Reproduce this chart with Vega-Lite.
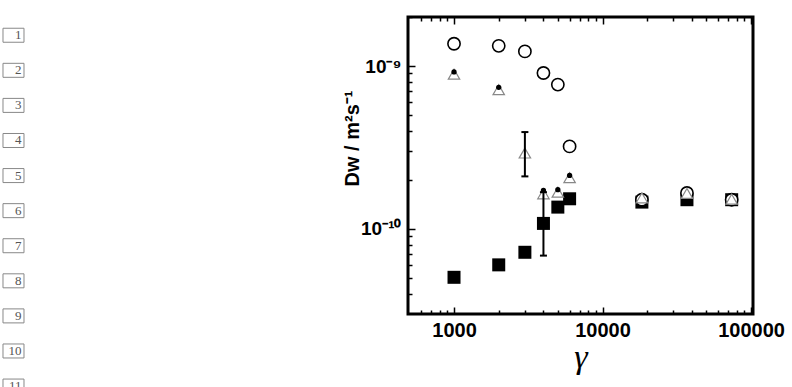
{
  "$schema": "https://vega.github.io/schema/vega-lite/v6.json",
  "padding": {"left": 0, "top": 16, "right": 0, "bottom": 0},
  "background": "white",
  "config": {"view": {"stroke": "black", "strokeWidth": 3}},
  "datasets": {
    "nums": [{"n": 1}, {"n": 2}, {"n": 3}, {"n": 4}, {"n": 5}, {"n": 6}, {"n": 7}, {"n": 8}, {"n": 9}, {"n": 10}, {"n": 11}],
    "pts": [
      {"g": 1000, "D": 1.37e-9, "s": "circle"},
      {"g": 2000, "D": 1.33e-9, "s": "circle"},
      {"g": 3000, "D": 1.23e-9, "s": "circle"},
      {"g": 4000, "D": 0.906e-9, "s": "circle"},
      {"g": 5000, "D": 0.769e-9, "s": "circle"},
      {"g": 6000, "D": 3.21e-10, "s": "circle"},
      {"g": 18400, "D": 1.51e-10, "s": "circle"},
      {"g": 37000, "D": 1.66e-10, "s": "circle"},
      {"g": 74000, "D": 1.51e-10, "s": "circle"},
      {"g": 1000, "D": 0.89e-9, "s": "triangle"},
      {"g": 2000, "D": 0.716e-9, "s": "triangle"},
      {"g": 3000, "D": 2.92e-10, "s": "triangle"},
      {"g": 4000, "D": 1.64e-10, "s": "triangle"},
      {"g": 5000, "D": 1.68e-10, "s": "triangle"},
      {"g": 6000, "D": 2.06e-10, "s": "triangle"},
      {"g": 18400, "D": 1.55e-10, "s": "triangle"},
      {"g": 37000, "D": 1.65e-10, "s": "triangle"},
      {"g": 74000, "D": 1.52e-10, "s": "triangle"},
      {"g": 1000, "D": 0.92e-9, "s": "dot"},
      {"g": 2000, "D": 0.74e-9, "s": "dot"},
      {"g": 4000, "D": 1.72e-10, "s": "dot"},
      {"g": 5000, "D": 1.74e-10, "s": "dot"},
      {"g": 6000, "D": 2.13e-10, "s": "dot"},
      {"g": 1000, "D": 5.04e-11, "s": "square"},
      {"g": 2000, "D": 6.01e-11, "s": "square"},
      {"g": 3000, "D": 7.18e-11, "s": "square"},
      {"g": 4000, "D": 1.08e-10, "s": "square"},
      {"g": 5000, "D": 1.36e-10, "s": "square"},
      {"g": 6000, "D": 1.53e-10, "s": "square"},
      {"g": 18400, "D": 1.46e-10, "s": "square"},
      {"g": 37000, "D": 1.51e-10, "s": "square"},
      {"g": 74000, "D": 1.51e-10, "s": "square"}
    ],
    "err": [
      {"g": 3000, "lo": 2.10e-10, "hi": 3.93e-10},
      {"g": 4000, "lo": 6.85e-11, "hi": 1.68e-10}
    ]
  },
  "width": 345,
  "height": 297,
  "data": {"name": "pts"},
  "resolve": {"scale": {"x": "independent", "y": "independent"}, "axis": {"x": "independent", "y": "independent"}},
  "layer": [
    {
      "transform": [{"filter": "datum.s == 'square'"}],
      "mark": {"type": "point", "shape": "square", "filled": true, "color": "black", "size": 169, "opacity": 1},
      "encoding": {
        "x": {"field": "g", "type": "quantitative",
          "scale": {"type": "log", "domain": [490, 103000], "nice": false},
          "axis": {"orient": "bottom", "values": [1000, 10000, 100000], "format": "d", "ticks": false, "domain": false, "grid": false,
            "labelFont": "Liberation Sans", "labelFontWeight": "bold", "labelFontSize": 20, "labelColor": "black", "labelPadding": 6, "labelFlush": false, "labelOverlap": false,
            "title": "γ", "titleFont": "Liberation Serif", "titleFontStyle": "italic", "titleFontWeight": "normal", "titleFontSize": 34, "titleColor": "black", "titlePadding": 0}},
        "y": {"field": "D", "type": "quantitative",
          "scale": {"type": "log", "domain": [3e-11, 2e-9], "nice": false},
          "axis": {"orient": "left", "values": [1e-10, 1e-9], "labelExpr": "datum.value > 5e-10 ? '10⁻⁹' : '10⁻¹⁰'", "ticks": false, "domain": false, "grid": false,
            "labelFont": "Liberation Sans", "labelFontWeight": "bold", "labelFontSize": 19, "labelColor": "black", "labelPadding": 7, "labelFlush": false, "labelOverlap": false,
            "title": "Dw / m²s⁻¹", "titleFont": "Liberation Sans", "titleFontWeight": "bold", "titleFontSize": 20, "titleColor": "black", "titleX": -46, "titleY": 121, "titleAlign": "center"}}
      }
    },
    {
      "transform": [{"filter": "datum.s == 'circle'"}],
      "mark": {"type": "point", "shape": "circle", "filled": true, "fill": "white", "stroke": "black", "strokeWidth": 1.6, "size": 150, "opacity": 1},
      "encoding": {
        "x": {"field": "g", "type": "quantitative",
          "scale": {"type": "log", "domain": [490, 103000], "nice": false},
          "axis": {"orient": "bottom", "offset": -7, "values": [1000, 10000, 100000], "labels": false, "tickSize": 7, "tickWidth": 1.5, "tickColor": "black", "domain": false, "grid": false, "title": null, "zindex": 1}},
        "y": {"field": "D", "type": "quantitative",
          "scale": {"type": "log", "domain": [3e-11, 2e-9], "nice": false},
          "axis": {"orient": "left", "offset": -7, "values": [1e-10, 1e-9], "labels": false, "tickSize": 7, "tickWidth": 1.5, "tickColor": "black", "domain": false, "grid": false, "title": null, "zindex": 1}}
      }
    },
    {
      "transform": [{"filter": "datum.s == 'triangle'"}],
      "mark": {"type": "point", "shape": "triangle-up", "filled": true, "fill": "white", "stroke": "#888", "strokeWidth": 1.2, "size": 130, "opacity": 1},
      "encoding": {
        "x": {"field": "g", "type": "quantitative",
          "scale": {"type": "log", "domain": [490, 103000], "nice": false},
          "axis": {"orient": "top", "offset": -7, "values": [1000, 10000, 100000], "labels": false, "tickSize": 7, "tickWidth": 1.5, "tickColor": "black", "domain": false, "grid": false, "title": null, "zindex": 1}},
        "y": {"field": "D", "type": "quantitative",
          "scale": {"type": "log", "domain": [3e-11, 2e-9], "nice": false},
          "axis": {"orient": "left", "offset": -4, "values": [4e-11, 5e-11, 6e-11, 7e-11, 8e-11, 9e-11, 2e-10, 3e-10, 4e-10, 5e-10, 6e-10, 7e-10, 8e-10, 9e-10, 2e-9], "labels": false, "tickSize": 4, "tickWidth": 1.5, "tickColor": "black", "domain": false, "grid": false, "title": null, "zindex": 1}}
      }
    },
    {
      "transform": [{"filter": "datum.s == 'dot'"}],
      "mark": {"type": "point", "shape": "circle", "filled": true, "color": "black", "size": 28, "opacity": 1},
      "encoding": {
        "x": {"field": "g", "type": "quantitative",
          "scale": {"type": "log", "domain": [490, 103000], "nice": false},
          "axis": {"orient": "top", "offset": -4, "values": [600, 700, 800, 900, 2000, 3000, 4000, 5000, 6000, 7000, 8000, 9000, 20000, 30000, 40000, 50000, 60000, 70000, 80000, 90000], "labels": false, "tickSize": 4, "tickWidth": 1.5, "tickColor": "black", "domain": false, "grid": false, "title": null, "zindex": 1}},
        "y": {"field": "D", "type": "quantitative",
          "scale": {"type": "log", "domain": [3e-11, 2e-9], "nice": false}, "axis": null}
      }
    },
    {
      "data": {"name": "err"},
      "mark": {"type": "rule", "color": "black", "strokeWidth": 2},
      "encoding": {
        "x": {"field": "g", "type": "quantitative",
          "scale": {"type": "log", "domain": [490, 103000], "nice": false},
          "axis": {"orient": "bottom", "offset": -4, "values": [600, 700, 800, 900, 2000, 3000, 4000, 5000, 6000, 7000, 8000, 9000, 20000, 30000, 40000, 50000, 60000, 70000, 80000, 90000], "labels": false, "tickSize": 4, "tickWidth": 1.5, "tickColor": "black", "domain": false, "grid": false, "title": null, "zindex": 1}},
        "y": {"field": "lo", "type": "quantitative",
          "scale": {"type": "log", "domain": [3e-11, 2e-9], "nice": false}, "axis": null},
        "y2": {"field": "hi"}
      }
    },
    {
      "data": {"name": "err"},
      "transform": [{"fold": ["lo", "hi"], "as": ["k", "v"]}],
      "mark": {"type": "tick", "orient": "horizontal", "color": "black", "thickness": 2, "size": 7, "opacity": 1},
      "encoding": {
        "x": {"field": "g", "type": "quantitative",
          "scale": {"type": "log", "domain": [490, 103000], "nice": false}, "axis": null},
        "y": {"field": "v", "type": "quantitative",
          "scale": {"type": "log", "domain": [3e-11, 2e-9], "nice": false}, "axis": null}
      }
    },
    {
      "data": {"name": "nums"},
      "mark": {"type": "point", "shape": "M-1.5,-1H1.5V1H-1.5Z", "size": 196, "stroke": "#888", "strokeWidth": 1, "filled": false, "opacity": 1, "clip": false},
      "encoding": {
        "x": {"datum": 0, "type": "quantitative", "scale": {"domain": [1.1435, 2.1435], "nice": false, "zero": false}, "axis": null},
        "y": {"field": "n", "type": "quantitative", "scale": {"domain": [0.48, 8.946], "reverse": true, "nice": false, "zero": false}, "axis": null}
      }
    },
    {
      "data": {"name": "nums"},
      "mark": {"type": "text", "font": "Liberation Serif", "fontSize": 13, "align": "right", "dx": 8, "color": "#555", "clip": false},
      "encoding": {
        "x": {"datum": 0, "type": "quantitative", "scale": {"domain": [1.1435, 2.1435], "nice": false, "zero": false}, "axis": null},
        "y": {"field": "n", "type": "quantitative", "scale": {"domain": [0.48, 8.946], "reverse": true, "nice": false, "zero": false}, "axis": null},
        "text": {"field": "n", "type": "quantitative"}
      }
    }
  ]
}
